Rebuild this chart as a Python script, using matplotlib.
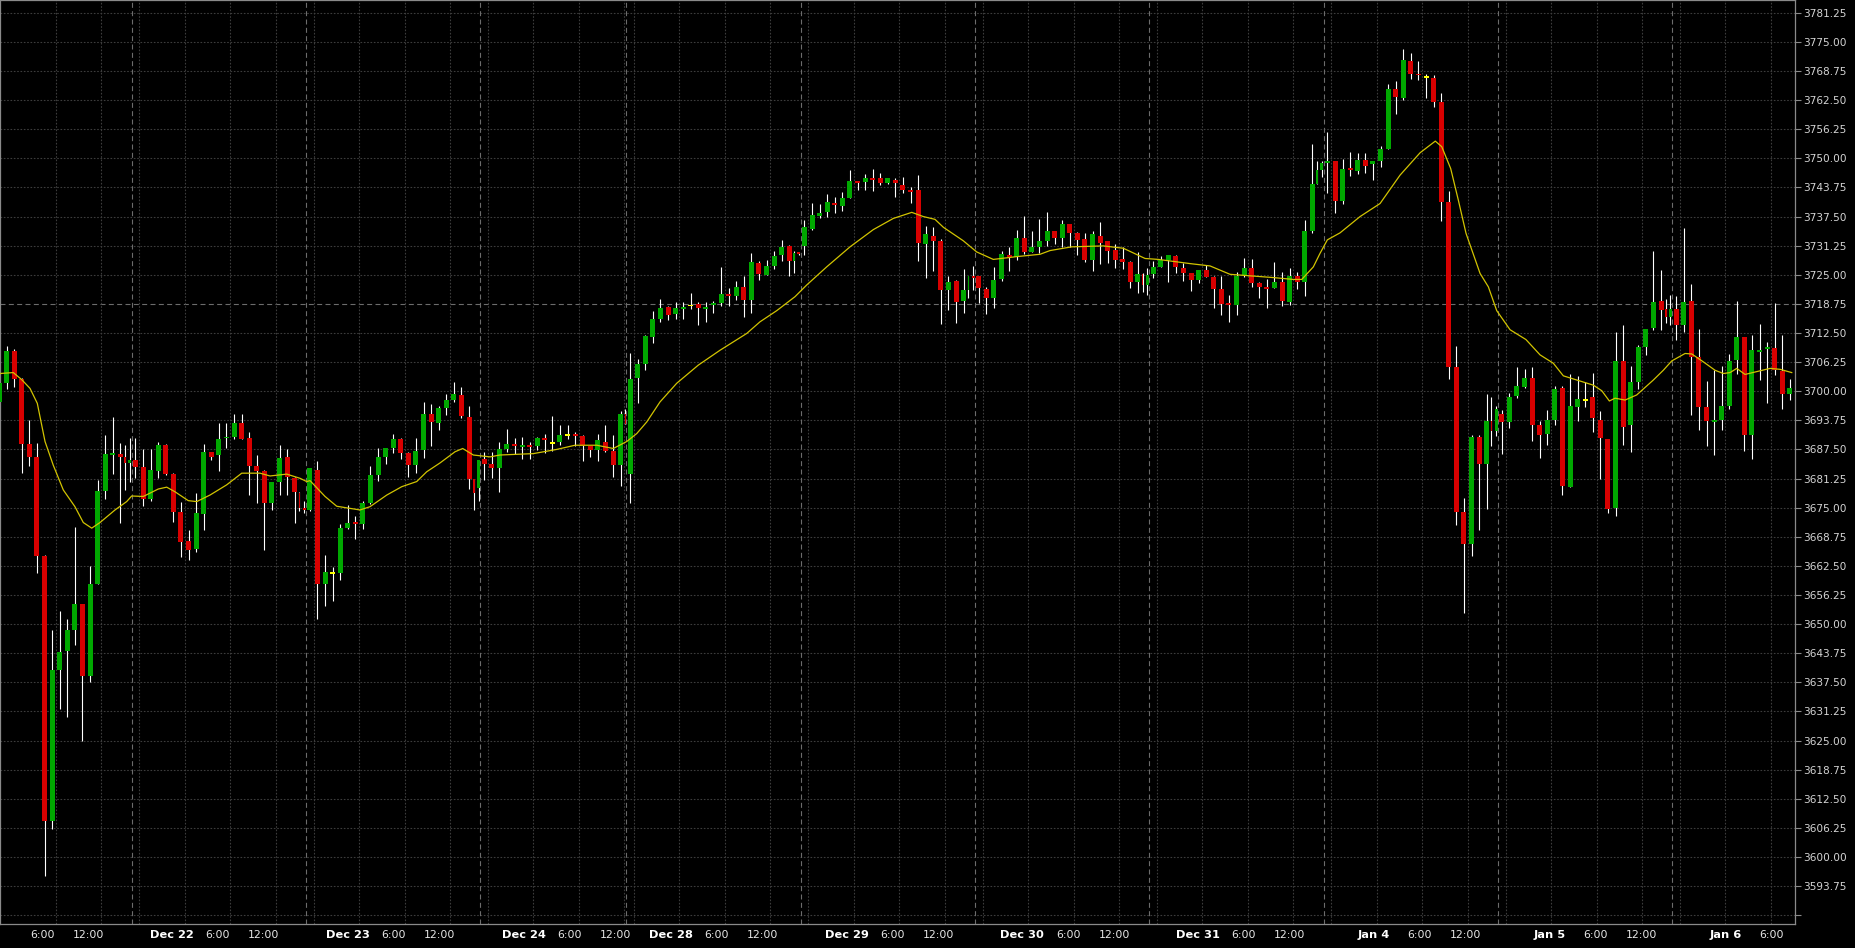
import numpy as np
import matplotlib
matplotlib.use('Agg')
import matplotlib.pyplot as plt
import matplotlib.transforms as mtransforms

# trading sessions shown on the chart (session opens 17:00 the day before)
sessions = ['Dec 21', 'Dec 22', 'Dec 23', 'Dec 24', 'Dec 28', 'Dec 29',
            'Dec 30', 'Dec 31', 'Jan 4', 'Jan 5', 'Jan 6']
session_hours = [23, 23, 23, 19.25, 23, 23, 23, 23, 23, 23, 23]
first_session_start = -5.625      # hours before the left edge of the plot
first_bar_slot = [5, 0, 0, 0, 0, 0, 0, 0, 0, 0, 0]

# hourly bars (open, high, low, close)
dec21 = [(3697.7, 3703.0, 3696.0, 3701.8), (3701.8, 3709.7, 3700.5, 3708.6),
         (3708.6, 3709.0, 3701.0, 3702.6), (3702.6, 3702.9, 3682.5, 3688.7),
         (3688.7, 3693.8, 3683.9, 3685.9), (3685.9, 3688.8, 3661.0, 3664.7),
         (3664.7, 3664.8, 3596.0, 3607.7), (3607.7, 3648.7, 3606.1, 3640.1),
         (3640.1, 3652.8, 3631.8, 3643.9), (3644.3, 3651.1, 3630.1, 3648.7),
         (3648.7, 3670.9, 3645.4, 3654.3), (3654.3, 3654.3, 3625.0, 3638.9),
         (3638.9, 3662.5, 3637.5, 3658.7), (3658.7, 3681.0, 3658.6, 3678.6),
         (3678.6, 3690.6, 3676.8, 3686.5), (3686.3, 3694.4, 3682.2, 3686.6),
         (3686.6, 3688.9, 3671.8, 3685.9), (3685.9, 3688.4, 3678.8, 3684.5),
         (3684.5, 3689.9, 3680.4, 3685.2)]
dec22 = [(3685.2, 3689.9, 3681.4, 3683.8), (3683.8, 3687.6, 3675.4, 3676.8),
         (3676.8, 3687.6, 3676.5, 3683.1), (3682.9, 3689.0, 3681.4, 3688.4),
         (3688.4, 3688.6, 3682.0, 3682.2), (3682.2, 3682.4, 3672.0, 3674.1),
         (3674.1, 3676.3, 3664.3, 3667.7), (3667.8, 3670.2, 3663.8, 3666.0),
         (3666.1, 3678.1, 3665.4, 3673.9), (3673.7, 3688.6, 3670.3, 3686.9),
         (3686.9, 3687.0, 3685.2, 3685.9), (3686.2, 3693.2, 3682.9, 3689.7),
         (3689.9, 3693.2, 3687.9, 3690.2), (3690.2, 3695.1, 3689.7, 3693.1),
         (3693.1, 3695.1, 3689.8, 3689.8), (3690.0, 3691.3, 3677.8, 3684.0),
         (3684.0, 3686.4, 3676.1, 3682.9), (3682.9, 3683.0, 3665.8, 3676.1),
         (3676.1, 3680.5, 3674.5, 3680.5), (3680.5, 3688.4, 3677.8, 3685.7),
         (3685.9, 3687.6, 3677.8, 3681.6), (3681.4, 3681.5, 3671.6, 3678.4),
         (3678.2, 3678.3, 3674.3, 3675.0), (3675.0, 3676.5, 3673.8, 3674.6)]
dec23 = [(3674.6, 3683.6, 3674.3, 3683.6), (3683.1, 3685.0, 3651.0, 3658.7),
         (3658.7, 3664.8, 3653.9, 3661.2), (3661.0, 3662.3, 3655.0, 3661.0),
         (3661.0, 3671.4, 3659.5, 3670.6), (3670.7, 3675.6, 3670.5, 3671.8),
         (3671.8, 3673.2, 3668.3, 3671.5), (3671.5, 3676.4, 3670.4, 3675.9),
         (3675.9, 3683.9, 3675.8, 3682.0), (3682.0, 3687.9, 3680.8, 3685.9),
         (3685.9, 3687.8, 3684.4, 3687.7), (3687.9, 3690.8, 3686.7, 3689.7),
         (3689.7, 3690.0, 3685.4, 3686.8), (3686.8, 3686.9, 3681.5, 3684.1),
         (3684.1, 3690.0, 3682.5, 3687.1), (3687.4, 3697.6, 3685.7, 3695.2),
         (3695.1, 3697.2, 3688.2, 3693.4), (3693.2, 3696.8, 3691.7, 3696.4),
         (3696.4, 3699.4, 3694.9, 3698.1), (3698.1, 3701.9, 3697.7, 3699.4),
         (3699.1, 3701.0, 3694.2, 3694.7), (3694.4, 3696.8, 3679.1, 3681.1),
         (3681.1, 3681.2, 3674.5, 3678.2), (3679.3, 3685.2, 3676.4, 3685.2)]
dec24 = [(3685.4, 3687.0, 3680.9, 3684.4), (3684.4, 3687.0, 3681.3, 3683.6),
         (3683.6, 3689.0, 3678.4, 3687.5), (3687.6, 3691.8, 3686.9, 3688.6),
         (3688.6, 3689.9, 3686.5, 3688.3), (3688.0, 3690.1, 3685.4, 3688.4),
         (3688.4, 3689.0, 3685.4, 3688.0), (3688.2, 3690.1, 3687.4, 3690.0),
         (3690.0, 3690.8, 3686.8, 3689.6), (3688.9, 3694.7, 3687.1, 3688.9),
         (3689.1, 3692.7, 3688.4, 3690.6), (3690.6, 3692.7, 3689.7, 3690.6),
         (3690.8, 3691.3, 3688.3, 3690.4), (3690.4, 3690.5, 3685.1, 3688.2),
         (3688.2, 3688.3, 3685.9, 3687.4), (3687.4, 3690.8, 3685.1, 3689.5),
         (3689.1, 3692.7, 3687.0, 3687.1), (3687.1, 3690.6, 3681.5, 3684.1),
         (3684.1, 3695.8, 3679.6, 3695.2), (3695.2, 3696.1, 3693.0, 3693.0)]
dec28 = [(3682.2, 3708.3, 3676.1, 3702.6), (3702.9, 3707.0, 3697.4, 3705.8),
         (3705.8, 3712.1, 3704.5, 3711.8), (3711.7, 3717.2, 3710.4, 3715.5),
         (3715.5, 3719.9, 3714.9, 3717.9), (3718.1, 3718.2, 3715.3, 3716.4),
         (3716.6, 3719.1, 3715.6, 3717.9), (3717.6, 3719.1, 3715.5, 3718.1),
         (3718.4, 3721.0, 3717.6, 3718.4), (3718.7, 3719.1, 3714.2, 3717.9),
         (3717.7, 3719.1, 3714.9, 3718.1), (3718.6, 3719.4, 3716.9, 3719.0),
         (3718.9, 3726.7, 3718.3, 3720.8), (3720.8, 3722.1, 3718.3, 3720.5),
         (3720.5, 3723.6, 3719.6, 3722.4), (3722.4, 3724.7, 3716.0, 3719.6),
         (3719.6, 3729.6, 3716.9, 3727.7), (3727.5, 3727.9, 3723.9, 3725.2),
         (3725.0, 3728.2, 3724.9, 3726.9), (3726.9, 3730.0, 3726.2, 3729.0),
         (3729.2, 3732.5, 3728.0, 3731.0), (3731.2, 3731.3, 3724.7, 3728.0),
         (3728.0, 3730.0, 3725.3, 3729.6), (3729.8, 3729.9, 3729.3, 3729.4)]
dec29 = [(3731.2, 3736.7, 3729.2, 3735.2), (3734.8, 3740.5, 3734.7, 3737.8),
         (3737.7, 3740.3, 3737.1, 3738.3), (3738.5, 3742.3, 3737.5, 3740.6),
         (3740.4, 3741.6, 3738.3, 3740.0), (3739.8, 3742.7, 3738.7, 3741.4),
         (3741.5, 3747.6, 3741.4, 3745.1), (3745.1, 3745.2, 3743.3, 3744.8),
         (3745.0, 3746.6, 3743.2, 3745.7), (3745.7, 3747.8, 3743.0, 3745.3),
         (3745.7, 3746.8, 3744.3, 3744.6), (3744.6, 3745.8, 3744.5, 3745.7),
         (3745.3, 3745.7, 3741.7, 3744.6), (3744.3, 3746.0, 3742.6, 3743.3),
         (3743.2, 3743.9, 3740.5, 3742.8), (3743.2, 3746.5, 3728.0, 3731.9),
         (3731.6, 3735.5, 3724.4, 3733.7), (3733.3, 3735.2, 3725.9, 3732.2),
         (3732.2, 3732.6, 3714.5, 3721.7), (3721.8, 3724.7, 3717.4, 3723.4),
         (3723.6, 3723.9, 3714.7, 3719.2), (3719.4, 3726.2, 3716.9, 3721.7),
         (3721.7, 3724.8, 3720.1, 3724.7), (3724.7, 3726.9, 3721.7, 3724.4)]
dec30 = [(3724.7, 3724.8, 3719.0, 3722.1), (3721.9, 3722.4, 3716.5, 3720.1),
         (3720.1, 3726.6, 3717.9, 3723.9), (3724.1, 3730.0, 3723.7, 3729.4),
         (3729.2, 3731.0, 3725.9, 3728.8), (3728.9, 3734.6, 3728.2, 3732.8),
         (3732.8, 3737.6, 3729.4, 3729.9), (3729.9, 3734.4, 3729.8, 3731.0),
         (3731.0, 3737.0, 3729.6, 3732.2), (3732.2, 3738.4, 3731.2, 3734.4),
         (3734.4, 3734.5, 3731.6, 3732.9), (3732.9, 3736.8, 3731.0, 3735.9),
         (3735.9, 3736.0, 3731.0, 3734.0), (3734.0, 3734.1, 3729.2, 3732.5),
         (3732.7, 3734.0, 3727.8, 3728.2), (3728.2, 3734.4, 3725.9, 3733.7),
         (3733.3, 3736.3, 3727.4, 3731.9), (3732.2, 3732.3, 3727.6, 3730.2),
         (3730.3, 3731.7, 3726.5, 3728.2), (3728.4, 3731.0, 3726.2, 3727.8),
         (3727.8, 3727.9, 3722.1, 3723.5), (3723.5, 3729.8, 3721.0, 3725.2),
         (3725.2, 3725.3, 3721.2, 3722.7), (3722.7, 3726.4, 3720.6, 3724.9)]
dec31 = [(3725.2, 3728.0, 3724.4, 3726.6), (3726.7, 3729.1, 3726.6, 3728.2),
         (3728.2, 3729.2, 3723.5, 3729.2), (3729.1, 3729.2, 3725.3, 3726.7),
         (3726.4, 3727.5, 3723.7, 3725.3), (3725.3, 3725.4, 3721.6, 3723.9),
         (3723.9, 3726.0, 3723.3, 3726.0), (3726.0, 3727.1, 3724.5, 3724.6),
         (3724.6, 3724.7, 3717.9, 3721.9), (3721.9, 3724.7, 3716.4, 3718.7),
         (3718.9, 3720.6, 3714.9, 3718.5), (3718.5, 3725.5, 3716.4, 3724.7),
         (3724.7, 3728.5, 3724.6, 3726.4), (3726.4, 3728.4, 3722.4, 3723.3),
         (3723.3, 3723.4, 3720.1, 3722.4), (3722.4, 3724.0, 3717.8, 3722.0),
         (3722.2, 3727.8, 3722.1, 3723.4), (3723.4, 3725.5, 3718.4, 3719.4),
         (3719.2, 3726.5, 3718.5, 3724.7), (3724.7, 3725.6, 3721.9, 3723.5),
         (3723.5, 3736.8, 3720.4, 3734.3), (3734.3, 3753.1, 3734.0, 3744.5),
         (3744.5, 3749.5, 3744.4, 3747.5), (3747.5, 3749.5, 3746.0, 3749.1)]
jan4 = [(3749.1, 3755.7, 3742.6, 3749.5), (3749.4, 3749.5, 3738.3, 3740.8),
        (3740.8, 3749.8, 3740.1, 3747.7), (3748.0, 3751.3, 3746.3, 3747.6),
        (3747.3, 3751.1, 3746.6, 3749.6), (3749.6, 3751.1, 3746.8, 3748.4),
        (3748.7, 3749.5, 3745.3, 3749.4), (3749.5, 3752.6, 3748.2, 3752.0),
        (3752.0, 3765.9, 3751.9, 3764.9), (3764.9, 3766.6, 3759.5, 3763.2),
        (3763.0, 3773.5, 3762.5, 3771.1), (3770.9, 3772.7, 3767.0, 3768.2),
        (3768.2, 3770.9, 3766.8, 3767.8), (3767.5, 3768.1, 3763.0, 3767.5),
        (3767.3, 3767.9, 3761.1, 3762.2), (3762.2, 3764.1, 3736.5, 3740.7),
        (3740.7, 3743.0, 3702.6, 3705.3), (3705.3, 3709.7, 3671.3, 3674.1),
        (3674.1, 3677.1, 3652.4, 3667.3), (3667.3, 3690.7, 3664.6, 3690.2),
        (3690.2, 3690.6, 3670.2, 3684.3), (3684.3, 3699.3, 3674.7, 3693.6),
        (3693.6, 3698.7, 3688.3, 3691.4), (3691.4, 3696.8, 3690.4, 3696.2)]
jan5 = [(3695.1, 3695.9, 3686.5, 3693.4), (3693.4, 3699.7, 3692.2, 3698.7),
        (3698.9, 3705.3, 3698.5, 3701.1), (3700.9, 3704.8, 3700.7, 3702.8),
        (3702.8, 3705.2, 3689.4, 3692.7), (3692.7, 3693.6, 3685.7, 3690.6),
        (3690.8, 3695.9, 3688.4, 3693.8), (3693.8, 3701.2, 3692.7, 3700.5),
        (3700.7, 3701.1, 3677.8, 3679.7), (3679.5, 3703.7, 3679.4, 3696.8),
        (3696.7, 3703.3, 3693.7, 3698.3), (3698.1, 3701.9, 3696.7, 3698.1),
        (3698.7, 3704.0, 3691.3, 3694.3), (3693.8, 3695.7, 3681.1, 3690.0),
        (3689.7, 3689.8, 3673.9, 3674.8), (3675.0, 3712.8, 3673.3, 3706.5),
        (3706.5, 3714.2, 3688.4, 3692.4), (3692.8, 3705.5, 3687.0, 3702.0),
        (3702.0, 3709.9, 3700.5, 3709.5), (3709.5, 3713.4, 3707.8, 3713.3),
        (3713.6, 3730.1, 3713.1, 3719.1), (3719.4, 3726.0, 3713.1, 3717.4),
        (3717.6, 3719.9, 3714.7, 3716.0), (3716.0, 3720.6, 3714.2, 3717.6)]
jan6 = [(3717.6, 3720.4, 3711.0, 3714.2), (3714.2, 3735.0, 3712.8, 3719.1),
        (3719.4, 3723.0, 3694.9, 3707.4), (3707.3, 3713.3, 3691.7, 3696.7),
        (3696.7, 3702.2, 3688.3, 3693.7), (3693.5, 3704.5, 3686.3, 3693.8),
        (3693.8, 3705.4, 3691.7, 3696.8), (3696.8, 3708.0, 3696.2, 3706.5),
        (3706.7, 3719.4, 3703.7, 3711.6), (3711.6, 3711.7, 3687.2, 3690.7),
        (3690.7, 3712.1, 3685.4, 3708.8), (3708.5, 3714.4, 3702.4, 3708.8),
        (3709.1, 3710.5, 3697.4, 3709.4), (3709.3, 3718.9, 3703.5, 3704.5),
        (3704.3, 3712.1, 3696.2, 3699.5), (3699.5, 3702.6, 3698.1, 3700.7)]
bars = [dec21, dec22, dec23, dec24, dec28, dec29, dec30, dec31, jan4, jan5, jan6]

# moving average line (hours from left edge, price)
ma_hours = [0.0, 1.75, 2.86, 3.96, 4.92, 5.94, 7.03, 8.35, 9.89, 10.99, 12.1, 13.19,
            15.17, 16.71, 17.37, 18.9, 20.88, 21.99, 23.09, 24.84, 25.95, 27.7, 29.91,
            31.89, 34.3, 35.62, 37.82, 39.58, 40.46, 40.9, 42.88, 44.42, 47.49, 48.81,
            51.02, 53.0, 54.97, 56.29, 58.05, 60.03, 61.04, 62.44, 64.64, 65.96, 70.36,
            73.44, 75.86, 78.72, 80.91, 82.68, 84.0, 85.32, 87.07, 89.27, 92.12, 94.99,
            98.51, 100.26, 102.47, 104.88, 106.42, 109.06, 112.14, 115.21, 117.85,
            120.28, 121.81, 123.35, 124.45, 127.08, 128.85, 131.04, 134.13, 137.2,
            138.52, 141.39, 145.55, 148.19, 151.06, 152.81, 156.99, 159.63, 162.27,
            167.98, 170.62, 171.73, 173.26, 174.14, 175.11, 176.78, 179.42, 182.06,
            184.7, 187.34, 189.35, 190.2, 191.38, 192.39, 193.4, 195.25, 196.35,
            197.45, 199.21, 201.3, 203.17, 204.92, 206.24, 208.0, 210.2, 211.31,
            212.31, 213.06, 214.38, 215.92, 218.11, 219.43, 220.54, 222.3, 223.18,
            224.71, 226.25, 227.35, 228.23, 229.12, 230.21, 231.75, 233.51, 234.83,
            236.37]
ma_values = [3703.8, 3704.0, 3702.5, 3700.6, 3697.4, 3689.2, 3684.1, 3678.8, 3675.2,
             3671.8, 3670.6, 3671.8, 3674.5, 3676.3, 3677.5, 3677.4, 3679.0, 3679.4,
             3678.4, 3676.5, 3676.3, 3677.7, 3679.9, 3682.4, 3682.4, 3681.8, 3682.2,
             3681.3, 3680.6, 3680.8, 3677.4, 3675.3, 3674.5, 3675.2, 3677.7, 3679.5,
             3680.6, 3682.7, 3684.6, 3687.0, 3687.7, 3686.3, 3685.9, 3686.3, 3686.6,
             3687.5, 3688.4, 3688.4, 3687.7, 3689.2, 3690.9, 3693.4, 3697.7, 3701.7,
             3705.6, 3708.8, 3712.4, 3714.9, 3717.3, 3720.3, 3722.8, 3726.7, 3731.0,
             3734.7, 3737.1, 3738.4, 3737.5, 3736.9, 3735.2, 3732.3, 3729.9, 3728.3,
             3728.9, 3729.4, 3730.2, 3731.0, 3731.2, 3730.7, 3728.5, 3728.3, 3727.4,
             3726.9, 3725.1, 3724.4, 3724.0, 3724.0, 3726.7, 3729.6, 3732.5, 3734.0,
             3737.5, 3740.3, 3746.4, 3751.2, 3753.7, 3752.5, 3747.8, 3741.0, 3733.9,
             3725.3, 3722.4, 3717.3, 3713.2, 3711.1, 3707.8, 3706.0, 3703.3, 3702.4,
             3701.3, 3700.1, 3697.9, 3698.5, 3698.1, 3699.2, 3702.4, 3704.5, 3706.5,
             3708.1, 3708.0, 3706.3, 3704.5, 3703.8, 3704.0, 3704.9, 3703.6, 3704.2,
             3704.9, 3704.7, 3704.0]

UP, DOWN, DOJI, WICK, MA = '#00a800', '#d80000', '#ffff00', '#ffffff', '#d2c400'
GRID, MAJOR, FRAME = '#3c3c3c', '#6c6c6c', '#8a8a8a'


def bar_slots(length):
    # full hourly bars, then the short bars before the daily halt
    if length < 23:
        return [(h + 0.5, 1.0) for h in range(19)] + [(19.125, 0.25)]
    return [(h + 0.5, 1.0) for h in range(22)] + [(22.125, 0.25), (22.75, 0.5)]


fig = plt.figure(figsize=(18.55, 9.48), dpi=100, facecolor='black')
ax = fig.add_axes([0, 24 / 948, 1795 / 1855, 924 / 948], facecolor='black')

starts = first_session_start + np.concatenate([[0], np.cumsum(session_hours)[:-1]])
xmax = 236.8
ymin, ymax = 3585.6, 3784.0

# horizontal grid
yticks = np.arange(3587.5, 3782, 6.25)
for v in yticks:
    if abs(v - 3718.75) < 1e-6:
        ax.axhline(v, color=MAJOR, lw=0.8, ls=(0, (4.5, 3)), zorder=0)
    else:
        ax.axhline(v, color=GRID, lw=0.8, ls=(0, (1.5, 1.5)), zorder=0)

# vertical grid and time labels (labels drift slightly left of their
# grid lines towards the start of the chart, as in the original)
blend = mtransforms.blended_transform_factory(ax.transData, ax.transAxes)
for i, (name, s, length) in enumerate(zip(sessions, starts, session_hours)):
    if i > 0:
        ax.axvline(s, color=MAJOR, lw=0.8, ls=(0, (4.5, 3)), zorder=0)
    for off, lab in [(1, None), (7, name), (13, '6:00'), (19, '12:00')]:
        u = s + off
        if off >= length or u < 2 or u > xmax:
            continue
        ax.axvline(u, color=GRID, lw=0.8, ls=(0, (1.5, 1.5)), zorder=0)
        if lab:
            bold = off == 7
            xl = u + (u - 227.6) * 0.0082
            ax.text(xl, -10.5 / 924, lab, transform=blend, ha='center', va='center',
                    color='white' if bold else '#e8e8e8',
                    fontsize=8.2 if bold else 7.8,
                    fontweight='bold' if bold else 'normal', clip_on=False)

# candles
for s, first, data, length in zip(starts, first_bar_slot, bars, session_hours):
    slots = bar_slots(length)[first:first + len(data)]
    for (t, w), (o, h, l, c) in zip(slots, data):
        x = s + t
        ax.vlines(x, l, h, color=WICK, lw=0.8, zorder=2)
        if o == c:
            col = DOJI
        else:
            col = UP if c > o else DOWN
        lo, hi = min(o, c), max(o, c)
        if hi - lo < 0.4:
            mid = (hi + lo) / 2
            lo, hi = mid - 0.2, mid + 0.2
        ax.bar(x, hi - lo, width=0.66 * w if w == 1 else 0.8 * w, bottom=lo,
               color=col, linewidth=0, zorder=3)

ax.plot(ma_hours, ma_values, color=MA, lw=0.9, zorder=4)

ax.set_xlim(0, xmax)
ax.set_ylim(ymin, ymax)
ax.set_xticks([])
ax.yaxis.tick_right()
ax.set_yticks(yticks)
ax.set_yticklabels(['' if v < 3590 else f'{v:.2f}' for v in yticks])
ax.tick_params(axis='y', colors=FRAME, labelcolor='#d4d4d4', length=4, width=0.8,
               labelsize=7.6, pad=2)
for sp in ax.spines.values():
    sp.set_color(FRAME)
    sp.set_linewidth(0.9)

fig.savefig('out.png', dpi=100, facecolor='black')
